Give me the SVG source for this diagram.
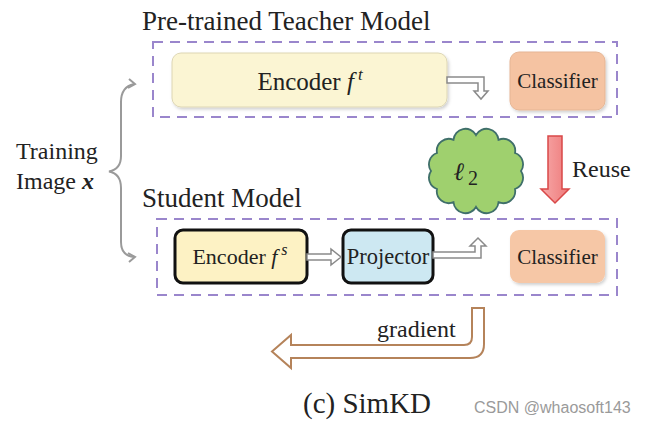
<svg xmlns="http://www.w3.org/2000/svg" width="648" height="424" viewBox="0 0 648 424">
<style>
  text { font-family: "Liberation Serif", "Times New Roman", serif; fill: #222; }
  text.sans { font-family: "Liberation Sans", Arial, sans-serif; fill: #9a9a9a; }
  text.math { font-family: "Liberation Serif", "DejaVu Serif", serif; font-style: italic; font-weight: bold; }
  .dash { fill: none; stroke: #9a86cc; stroke-width: 2; stroke-dasharray: 10 7; }
  .hollow { fill: #fff; stroke: #8a8a8a; stroke-width: 1.5; stroke-linejoin: miter; }
  .strong { stroke: #111; stroke-width: 3; }
  .it { font-style: italic; }
</style>
<defs>
  <filter id="shadow" x="-10%" y="-10%" width="125%" height="135%">
    <feDropShadow dx="1.5" dy="2" stdDeviation="1.5" flood-color="#000" flood-opacity="0.18"/>
  </filter>
  <linearGradient id="red" x1="0" y1="0" x2="1" y2="0">
    <stop offset="0" stop-color="#f7a9a9"/>
    <stop offset="1" stop-color="#ee7a7a"/>
  </linearGradient>
</defs>
<rect width="648" height="424" fill="#fff"/>

<text x="142" y="30" font-size="27">Pre-trained Teacher Model</text>
<text x="142" y="207" font-size="27">Student Model</text>

<g id="training-image">
  <text x="16" y="159" font-size="24">Training</text>
  <text x="16" y="189" font-size="24">Image <tspan font-weight="bold" class="it">x</tspan></text>
</g>

<g id="teacher-box"><rect class="dash" x="153" y="42" width="464" height="75"/></g>
<g id="student-box"><rect class="dash" x="157" y="219" width="460" height="76"/></g>

<g id="teacher-encoder">
  <rect x="172" y="53" width="275" height="54" rx="9" fill="#fbf5d3" stroke="#ddd6b4" stroke-width="1" filter="url(#shadow)"/>
  <text x="310" y="90" font-size="25" text-anchor="middle">Encoder <tspan class="it">f</tspan><tspan class="it" font-size="17" dx="4" dy="-10">t</tspan></text>
</g>
<g id="teacher-classifier">
  <rect x="510" y="52" width="95" height="58" rx="9" fill="#f5c3a2" stroke="#e5b594" stroke-width="1" filter="url(#shadow)"/>
  <text x="557.5" y="88" font-size="21" text-anchor="middle">Classifier</text>
</g>

<g id="student-encoder">
  <rect class="strong" x="175" y="230" width="132" height="53" rx="8" fill="#fdf2c4"/>
  <text x="240" y="264" font-size="22" text-anchor="middle">Encoder <tspan class="it">f</tspan><tspan class="it" font-size="16" dx="4" dy="-9">s</tspan></text>
</g>
<g id="projector">
  <rect class="strong" x="343" y="230" width="90" height="53" rx="8" fill="#cde8f2"/>
  <text x="388" y="264" font-size="22.5" text-anchor="middle">Projector</text>
</g>
<g id="student-classifier">
  <rect x="510" y="230" width="95" height="53" rx="9" fill="#f6c7a6" filter="url(#shadow)"/>
  <text x="557.5" y="264" font-size="21" text-anchor="middle">Classifier</text>
</g>

<g id="l2-cloud">
  <path d="M521,171 A12,12 0 0 1 515,189 A12,12 0 0 1 498.5,202.2 A12,12 0 0 1 476,207 A12,12 0 0 1 453.5,202.2 A12,12 0 0 1 437,189 A12,12 0 0 1 431,171 A12,12 0 0 1 437,153 A12,12 0 0 1 453.5,139.8 A12,12 0 0 1 476,135 A12,12 0 0 1 498.5,139.8 A12,12 0 0 1 515,153 A12,12 0 0 1 521,171 Z" fill="#9fd06e" stroke="#3f6f6a" stroke-width="1.8"/>
  <text x="454" y="180" font-size="25" class="math">ℓ</text>
  <text x="468" y="185" font-size="20">2</text>
</g>

<g id="reuse">
  <path d="M548,136 L562,136 L562,189 L569,189 L555,203 L541,189 L548,189 Z" fill="url(#red)" stroke="#d94848" stroke-width="1.5"/>
  <text x="572" y="177" font-size="24">Reuse</text>
</g>

<g id="connectors">
  <path d="M134,84 C125,86 121,92 121,102 L121,156 C121,165 117,170 109,171.5 C117,173 121,178 121,188 L121,242 C121,251 125,256 134,257" fill="none" stroke="#9a9a9a" stroke-width="2"/>
  <path d="M129,79 L135,84 L128,88" fill="none" stroke="#9a9a9a" stroke-width="2"/>
  <path d="M128,253 L135,257 L129,262" fill="none" stroke="#9a9a9a" stroke-width="2"/>
  <path class="hollow" d="M447,77 L484,77 L484,91 L488,91 L481,99 L474,91 L478,91 L478,83 L447,83 Z"/>
  <path class="hollow" d="M307,254 L331,254 L331,249 L341,257 L331,265 L331,260 L307,260 Z"/>
  <path class="hollow" d="M433,252 L475,252 L475,246 L470,246 L478,238 L486,246 L481,246 L481,258 L433,258 Z"/>
  <path d="M472,308 L484,308 L484,344 Q484,358 470,358 L291,358 L291,368 L272,351.5 L291,335 L291,345 L464,345 Q472,345 472,337 Z" fill="#fff" stroke="#b5835a" stroke-width="2" stroke-linejoin="miter"/>
  <text x="377" y="337" font-size="24">gradient</text>
</g>

<text x="303" y="413" font-size="29">(c) SimKD</text>
<text x="474" y="413" font-size="16" class="sans">CSDN @whaosoft143</text>
</svg>
